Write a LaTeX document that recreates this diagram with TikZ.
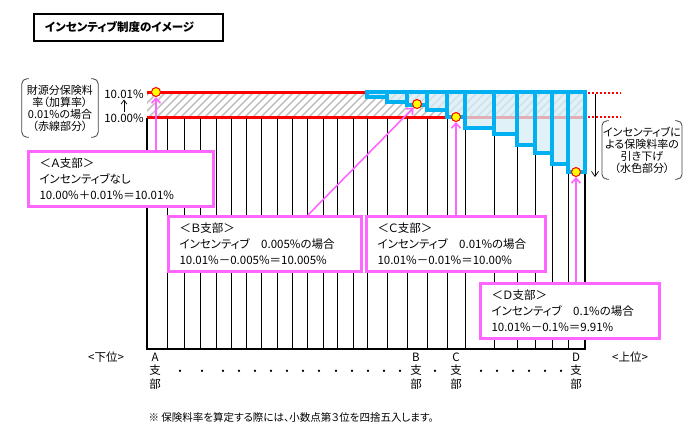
\documentclass[tikz,border=0pt]{standalone}
\usepackage{fontspec}
\setmainfont{Noto Sans CJK JP}[CharacterWidth=AlternateProportional]
\usetikzlibrary{positioning,calc}
\usetikzlibrary{arrows.meta}
\definecolor{RateRed}{RGB}{255,0,0}
\definecolor{CutBlue}{RGB}{0,176,240}
\definecolor{PaleBlue}{RGB}{214,236,244}
\definecolor{NotePink}{RGB}{255,102,255}
\definecolor{HatchGray}{RGB}{195,195,195}
\definecolor{DotYellow}{RGB}{255,255,0}
\newcommand{\boxfont}{\fontsize{11.5}{16}\selectfont}
\newcommand{\notefont}{\fontsize{11}{12}\selectfont}
\newcommand{\axisfont}{\fontsize{11.5}{13.5}\selectfont}
\tikzset{
	rankdot/.style={circle,draw=RateRed,fill=DotYellow,line width=1pt,inner sep=0pt,minimum size=9pt},
	callout/.style={draw=NotePink,line width=3pt,fill=white,anchor=north west,inner xsep=11pt,inner ysep=0pt,
		align=left,minimum height=55pt,font=\boxfont},
	pointer/.style={NotePink,line width=1.6pt,-{Straight Barb[length=5pt,width=9pt]}},
	col/.style={draw=black,line width=0.9pt},
	chartedge/.style={draw=black,line width=2.5pt},
	cutcol/.style={draw=CutBlue,line width=3.2pt,fill=PaleBlue,fill opacity=0.75},
	bracket/.style={draw=black!75,line width=0.8pt,rounded corners=5pt},
	ratenote/.style={font=\notefont,align=center,inner sep=1pt,minimum width=76pt,minimum height=58pt},
	redtick/.style={RateRed,line width=1.8pt,dash pattern=on 2pt off 2pt},
}

\begin{document}
\begin{tikzpicture}[x=1pt,y=-1pt]
	\useasboundingbox (0,0) rectangle (694,440);
	% title
	\node[draw=black,line width=2pt,anchor=north west,minimum height=27pt,text width=167pt,inner xsep=11pt,
		align=left,font=\fontsize{11.5}{14}\selectfont\bfseries] (title) at (33,13) {インセンティブ制度のイメージ};
	% hatched band between 10.00% and 10.01%
	\begin{scope}
		\clip (147,92) rectangle (585,117);
		\foreach \i in {0,...,58}
			\draw[HatchGray,line width=1.6pt] (120+8*\i,122) -- ++(35,-35);
	\end{scope}
	\draw[RateRed,line width=3pt] (147,92) -- (585,92);
	\draw[RateRed,line width=3pt] (147,117) -- (585,117);
	% branch columns
	\foreach \x in {167,184,200,216,231,246,261,277,292,307,323,337,353,367,387,407,427,447}
		\draw[col] (\x,118) -- (\x,349);
	\foreach \x/\y in {465/128,494/134,517/145,535/153,552/164,568/172}
		\draw[col] (\x,\y) -- (\x,349);
	\draw[chartedge] (147,118) -- (147,349) -- (585,349) -- (585,172);
	% incentive cuts
	\foreach \xa/\xb/\yb in {367/387/97,387/407/102,407/427/105,427/447/110,447/465/117,465/494/128,
		494/517/134,517/535/145,535/552/153,552/568/164,568/585/172}
		\draw[cutcol] (\xa,92) rectangle (\xb,\yb);
	\draw[redtick] (588,93) -- (621,93);
	\draw[redtick] (588,117) -- (621,117);
	% rate labels
	\node[ratenote] (rateNote) at (60,108) {財源分保険料\\率（加算率）\\0.01\%の場合\\（赤線部分）};
	\draw[bracket] ([xshift=7pt]rateNote.north west) -- (rateNote.north west) -- (rateNote.south west) -- ([xshift=7pt]rateNote.south west);
	\draw[bracket] ([xshift=-7pt]rateNote.north east) -- (rateNote.north east) -- (rateNote.south east) -- ([xshift=-7pt]rateNote.south east);
	\node[font=\fontsize{11.5}{12}\selectfont,inner sep=1pt] (rateHigh) at (124,94) {10.01\%};
	\node[font=\fontsize{11.5}{12}\selectfont,inner sep=1pt] (rateLow) at (124,118) {10.00\%};
	\draw[line width=0.7pt,-{Straight Barb[length=4pt,width=6pt]}] (rateLow) -- (rateHigh);
	\node[ratenote] (cutNote) at (642,150) {インセンティブに\\よる保険料率の\\引き下げ\\（水色部分）};
	\draw[bracket] ([xshift=7pt]cutNote.north west) -- (cutNote.north west) -- (cutNote.south west) -- ([xshift=7pt]cutNote.south west);
	\draw[bracket] ([xshift=-7pt]cutNote.north east) -- (cutNote.north east) -- (cutNote.south east) -- ([xshift=-7pt]cutNote.south east);
	\coordinate (cutTop) at (595,94);
	\coordinate (cutBottom) at (595,177);
	\draw[line width=0.7pt,-{Straight Barb[length=5pt,width=7pt]}] (cutTop) -- (cutBottom);
	% branch callouts
	\node[rankdot] (dotA) at (156,92) {};
	\node[rankdot] (dotB) at (417,104) {};
	\node[rankdot] (dotC) at (456,117) {};
	\node[rankdot] (dotD) at (576,172) {};
	\node[callout,text width=163pt] (boxA) at (27,150) {＜Ａ支部＞\\インセンティブなし\\10.00\%＋0.01\%＝10.01\%};
	\node[callout,text width=171pt] (boxB) at (167,215) {＜Ｂ支部＞\\インセンティブ　0.005\%の場合\\10.01\%－0.005\%＝10.005\%};
	\node[callout,text width=157pt] (boxC) at (365,215) {＜Ｃ支部＞\\インセンティブ　0.01\%の場合\\10.01\%－0.01\%＝10.00\%};
	\node[callout,text width=157pt] (boxD) at (479,282) {＜Ｄ支部＞\\インセンティブ　0.1\%の場合\\10.01\%－0.1\%＝9.91\%};
	\coordinate (tailB) at (308,215);
	\draw[pointer] (boxA.north -| dotA) -- (dotA);
	\draw[pointer] (tailB) -- (dotB);
	\draw[pointer] (boxC.north -| dotC) -- (dotC);
	\draw[pointer] (boxD.north -| dotD) -- (dotD);
	% ranking axis
	\node[font=\axisfont] (lowEnd) at (106,357) {<下位>};
	\node[font=\axisfont] (highEnd) at (630,357) {<上位>};
	\foreach \x/\b in {155/A,416/B,456/C,576/D}
		\node[font=\axisfont,align=center,inner sep=0pt] (tag\b) at (\x,371) {\b\\支\\部};
	\foreach \x in {180,202,223,239,255,271,287,303,319,336,352,368,384,400,435,481,497,513,529,545,561}
		\node[font=\notefont,inner sep=0pt] (gap\x) at (\x,373) {・};
	\node[font=\fontsize{10.5}{12}\selectfont,anchor=west] (footnote) at (145,418) {※ 保険料率を算定する際には、小数点第３位を四捨五入します。};
\end{tikzpicture}
\end{document}
